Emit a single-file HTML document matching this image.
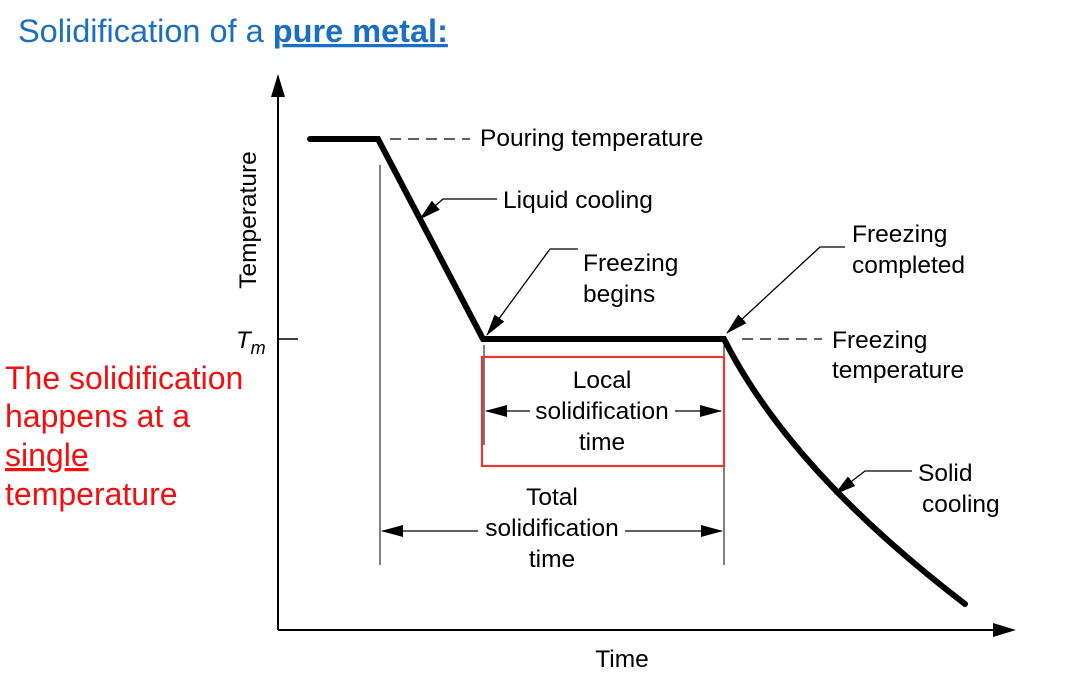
<!DOCTYPE html>
<html><head><meta charset="utf-8"><style>
html,body{margin:0;padding:0;background:#fff;}
svg{display:block;font-family:"Liberation Sans",Arial,sans-serif;}
</style></head><body>
<svg width="1065" height="686" viewBox="0 0 1065 686" xmlns="http://www.w3.org/2000/svg">
<defs>
<marker id="b" markerWidth="22" markerHeight="12" refX="21" refY="6" orient="auto" markerUnits="userSpaceOnUse" viewBox="0 0 22 12"><path d="M0,0 L22,6 L0,12 z" fill="#000"/></marker>
</defs>
<text x="18" y="42" font-size="32.5" fill="#1a6fc0">Solidification of a <tspan font-weight="bold" text-decoration="underline">pure metal:</tspan></text>
<g font-size="32" fill="#f01010">
<text x="5" y="389">The solidification</text>
<text x="5" y="427">happens at a</text>
<text x="5" y="466" text-decoration="underline">single</text>
<text x="5" y="505">temperature</text>
</g>
<line x1="278" y1="630" x2="278" y2="90" stroke="#000" stroke-width="2"/>
<path d="M271,97 L278,74 L285,97 z"/>
<line x1="278" y1="630" x2="995" y2="630" stroke="#000" stroke-width="2"/>
<path d="M993,623 L1016,630 L993,637 z"/>
<line x1="278" y1="339" x2="298" y2="339" stroke="#000" stroke-width="1.5"/>
<text x="236" y="348" font-size="24" font-style="italic">T<tspan font-size="18" dy="6">m</tspan></text>
<text transform="translate(256,220) rotate(-90)" text-anchor="middle" font-size="24.5">Temperature</text>
<text x="622" y="667" text-anchor="middle" font-size="24.5">Time</text>
<path d="M310,139 L378,139 L483,339 L724,339 Q790,470 965,604" fill="none" stroke="#000" stroke-width="6" stroke-linecap="round" stroke-linejoin="miter"/>
<line x1="380" y1="165" x2="380" y2="565" stroke="#000" stroke-width="1"/>
<line x1="484" y1="345" x2="484" y2="445" stroke="#000" stroke-width="1"/>
<line x1="724" y1="345" x2="724" y2="565" stroke="#000" stroke-width="1"/>
<line x1="390" y1="139" x2="470" y2="139" stroke="#000" stroke-width="1.2" stroke-dasharray="11,7"/>
<line x1="742" y1="339" x2="822" y2="339" stroke="#000" stroke-width="1.2" stroke-dasharray="11,7"/>
<g font-size="24.5">
<text x="480" y="146">Pouring temperature</text>
<text x="503" y="208">Liquid cooling</text>
<text x="583" y="271">Freezing</text>
<text x="583" y="302">begins</text>
<text x="852" y="242">Freezing</text>
<text x="852" y="273">completed</text>
<text x="832" y="348">Freezing</text>
<text x="832" y="378">temperature</text>
<text x="918" y="481">Solid</text>
<text x="922" y="512">cooling</text>
</g>
<g fill="none" stroke="#000" stroke-width="1.3">
<polyline points="497,199 443,199 420,219" marker-end="url(#b)"/>
<polyline points="578,249 550,249 487,335" marker-end="url(#b)"/>
<polyline points="845,247 820,247 727,333" marker-end="url(#b)"/>
<polyline points="912,471 865,471 835,494" marker-end="url(#b)"/>
</g>
<rect x="482" y="357" width="242" height="109" fill="none" stroke="#e53935" stroke-width="2.2"/>
<g font-size="24.5" text-anchor="middle">
<text x="602" y="388">Local</text>
<text x="602" y="419">solidification</text>
<text x="602" y="450">time</text>
<text x="552" y="505">Total</text>
<text x="552" y="536">solidification</text>
<text x="552" y="567">time</text>
</g>
<g stroke="#000" stroke-width="1.3" fill="none">
<line x1="530" y1="411" x2="486" y2="411" marker-end="url(#b)"/>
<line x1="675" y1="411" x2="721" y2="411" marker-end="url(#b)"/>
<line x1="478" y1="531" x2="382" y2="531" marker-end="url(#b)"/>
<line x1="625" y1="531" x2="722" y2="531" marker-end="url(#b)"/>
</g>
</svg>
</body></html>
